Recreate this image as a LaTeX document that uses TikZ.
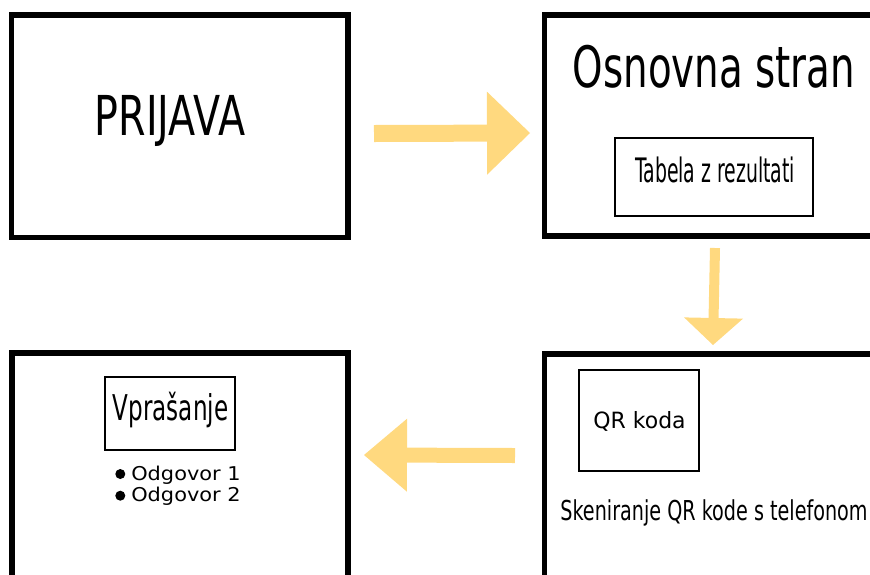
\documentclass[tikz,border=0pt]{standalone}
\usepackage{fontspec}
\usepackage{graphicx}
\setmainfont{DejaVu Sans}
\usetikzlibrary{arrows.meta}

\definecolor{flowarrow}{HTML}{FFD97F}

\tikzset{
  screen/.style={draw=black, line width=5.5pt, fill=white},
  panel/.style={draw=black, line width=1.8pt},
  label/.style={inner sep=0pt, anchor=base, text=black},
  flow/.style={draw=flowarrow, line cap=butt}
}
% text in a given size, squeezed horizontally by a given factor
\newcommand{\sqtext}[3]{\fontsize{#1}{#1}\selectfont\scalebox{#2}[1]{#3}}

\begin{document}
\begin{tikzpicture}[x=1pt, y=-1pt]
  \useasboundingbox (0,0) rectangle (870,574);
  \clip (0,0) rectangle (870,574);

  % four screens
  \draw[screen] (11.5,15) rectangle (348,237.5);
  \draw[screen] (544.5,15) rectangle (905,236);
  \draw[screen] (12,353) rectangle (348,610);
  \draw[screen] (544.5,354) rectangle (905,610);

  % login screen
  \node[label] (prijava) at (170,135) {\sqtext{55}{0.72}{PRIJAVA}};

  % main page
  \node[label] (osnovna) at (714,87.7) {\sqtext{57}{0.68}{Osnovna stran}};
  \draw[panel] (615,138) rectangle (813,216);
  \node[label] (tabela) at (715,182) {\sqtext{33.7}{0.56}{Tabela z rezultati}};

  % QR screen
  \draw[panel] (579,370) rectangle (699,471);
  \node[label] (qr) at (639.5,428) {\sqtext{22.4}{0.98}{QR koda}};
  \node[label] (sken) at (714,520) {\sqtext{27.4}{0.70}{Skeniranje QR kode s telefonom}};

  % question screen
  \draw[panel] (105,377) rectangle (235,450);
  \node[label] (vpr) at (170.5,420.5) {\sqtext{35.5}{0.65}{Vprašanje}};
  \fill (120.3,474) circle (5pt);
  \fill (120.3,495.7) circle (5pt);
  \node[label] (odg1) at (186,480) {\sqtext{19}{1.1}{Odgovor 1}};
  \node[label] (odg2) at (186,501.7) {\sqtext{19}{1.1}{Odgovor 2}};

  % flow between screens
  \coordinate (r1) at (374,133.5);
  \coordinate (r2) at (530,133);
  \coordinate (d1) at (715,248);
  \coordinate (d2) at (713,345);
  \coordinate (l1) at (515,455.5);
  \coordinate (l2) at (364,455);
  \draw[flow, line width=17pt,
        -{Triangle[length=43pt, width=83pt, line width=0pt, color=flowarrow]}] (r1) -- (r2);
  \draw[flow, line width=10pt,
        -{Triangle[length=27pt, width=59pt, line width=0pt, color=flowarrow]}] (d1) -- (d2);
  \draw[flow, line width=15pt,
        -{Triangle[length=43pt, width=73pt, line width=0pt, color=flowarrow]}] (l1) -- (l2);
\end{tikzpicture}
\end{document}
